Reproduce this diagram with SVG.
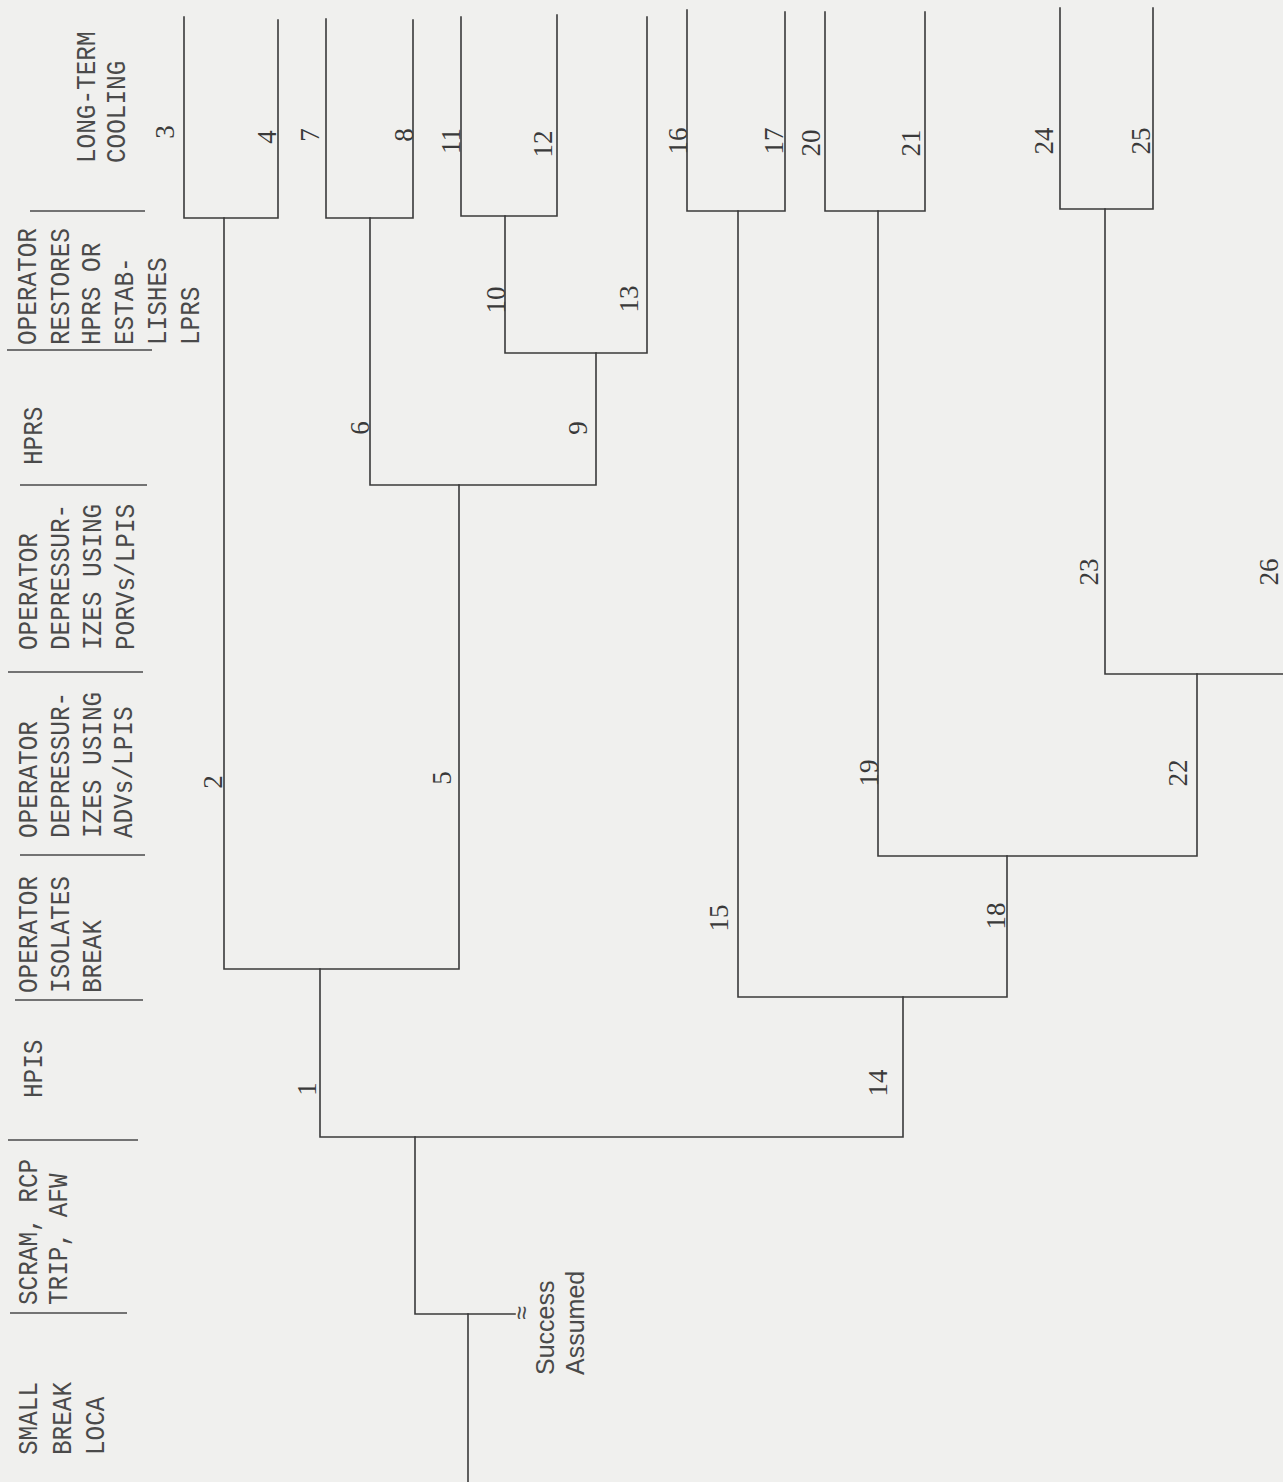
<svg xmlns="http://www.w3.org/2000/svg" width="1283" height="1482" viewBox="0 0 1283 1482">
<style>
.bg{fill:#f0f0ee}
.ln{stroke:#3a3a3a;stroke-width:1.6;fill:none;stroke-linecap:square}
.sep{stroke:#4a4a4a;stroke-width:1.6;fill:none}
.h{font-family:"Liberation Mono","DejaVu Sans Mono",monospace;font-size:28px;fill:#4a4a4a}
.n{font-family:"Liberation Serif","DejaVu Serif",serif;font-size:27px;fill:#3a3a3a;text-anchor:middle}
.s{font-family:"Liberation Sans","DejaVu Sans",sans-serif;font-size:25px;fill:#4a4a4a}
</style>
<rect class="bg" x="0" y="0" width="1283" height="1482"/>

<g id="headers">
<g id="h-small-break-loca">
<text class="h" transform="translate(37,1455) rotate(-90) scale(0.87,1)">SMALL</text>
<text class="h" transform="translate(71,1455) rotate(-90) scale(0.87,1)">BREAK</text>
<text class="h" transform="translate(104,1455) rotate(-90) scale(0.87,1)">LOCA</text>
</g>
<g id="h-scram">
<line class="sep" x1="10" y1="1313" x2="127" y2="1313"/>
<text class="h" transform="translate(37,1305) rotate(-90) scale(0.87,1)">SCRAM, RCP</text>
<text class="h" transform="translate(67,1305) rotate(-90) scale(0.87,1)">TRIP, AFW</text>
</g>
<g id="h-hpis">
<line class="sep" x1="8" y1="1140" x2="138" y2="1140"/>
<text class="h" transform="translate(42,1098) rotate(-90) scale(0.87,1)">HPIS</text>
</g>
<g id="h-isolates">
<line class="sep" x1="15" y1="1000" x2="143" y2="1000"/>
<text class="h" transform="translate(37,993) rotate(-90) scale(0.87,1)">OPERATOR</text>
<text class="h" transform="translate(69,993) rotate(-90) scale(0.87,1)">ISOLATES</text>
<text class="h" transform="translate(101,993) rotate(-90) scale(0.87,1)">BREAK</text>
</g>
<g id="h-advs">
<line class="sep" x1="20" y1="855" x2="145" y2="855"/>
<text class="h" transform="translate(37,838) rotate(-90) scale(0.87,1)">OPERATOR</text>
<text class="h" transform="translate(69,838) rotate(-90) scale(0.87,1)">DEPRESSUR-</text>
<text class="h" transform="translate(101,838) rotate(-90) scale(0.87,1)">IZES USING</text>
<text class="h" transform="translate(132,838) rotate(-90) scale(0.87,1)">ADVs/LPIS</text>
</g>
<g id="h-porvs">
<line class="sep" x1="8" y1="672" x2="143" y2="672"/>
<text class="h" transform="translate(37,650) rotate(-90) scale(0.87,1)">OPERATOR</text>
<text class="h" transform="translate(69,650) rotate(-90) scale(0.87,1)">DEPRESSUR-</text>
<text class="h" transform="translate(101,650) rotate(-90) scale(0.87,1)">IZES USING</text>
<text class="h" transform="translate(134,650) rotate(-90) scale(0.87,1)">PORVs/LPIS</text>
</g>
<g id="h-hprs">
<line class="sep" x1="20" y1="485" x2="147" y2="485"/>
<text class="h" transform="translate(42,465) rotate(-90) scale(0.87,1)">HPRS</text>
</g>
<g id="h-restores">
<line class="sep" x1="7" y1="350" x2="152" y2="350"/>
<text class="h" transform="translate(36,345) rotate(-90) scale(0.87,1)">OPERATOR</text>
<text class="h" transform="translate(69,345) rotate(-90) scale(0.87,1)">RESTORES</text>
<text class="h" transform="translate(100,345) rotate(-90) scale(0.87,1)">HPRS OR</text>
<text class="h" transform="translate(133,345) rotate(-90) scale(0.87,1)">ESTAB-</text>
<text class="h" transform="translate(166,345) rotate(-90) scale(0.87,1)">LISHES</text>
<text class="h" transform="translate(199,345) rotate(-90) scale(0.87,1)">LPRS</text>
</g>
<g id="h-longterm">
<line class="sep" x1="30" y1="211" x2="145" y2="211"/>
<text class="h" transform="translate(95,163) rotate(-90) scale(0.87,1)">LONG-TERM</text>
<text class="h" transform="translate(125,163) rotate(-90) scale(0.87,1)">COOLING</text>
</g>
</g>

<g id="connectors">
<path class="ln" d="M184,17 V218 H278 V20"/>
<path class="ln" d="M326,19 V218 H413 V20"/>
<path class="ln" d="M461,17 V216 H557 V15"/>
<path class="ln" d="M505,216 V353 H647 V17"/>
<path class="ln" d="M370,218 V485 H596 V353"/>
<path class="ln" d="M224,218 V969 H459 V485"/>
<path class="ln" d="M687,10 V211 H785 V12"/>
<path class="ln" d="M825,12 V211 H925 V12"/>
<path class="ln" d="M1060,8 V209 H1153 V8"/>
<path class="ln" d="M1105,209 V674 H1283"/>
<path class="ln" d="M878,211 V856 H1197 V674"/>
<path class="ln" d="M738,211 V997 H1007 V856"/>
<path class="ln" d="M320,969 V1137 H903 V997"/>
<path class="ln" d="M415,1137 V1314 H515"/>
<path class="ln" d="M468,1314 V1482"/>
</g>

<g id="labels">
<g id="n1"><text class="n" transform="translate(316,1089) rotate(-90)">1</text></g>
<g id="n2"><text class="n" transform="translate(222,782) rotate(-90)">2</text></g>
<g id="n3"><text class="n" transform="translate(174,132) rotate(-90)">3</text></g>
<g id="n4"><text class="n" transform="translate(276,137) rotate(-90)">4</text></g>
<g id="n5"><text class="n" transform="translate(451,778) rotate(-90)">5</text></g>
<g id="n6"><text class="n" transform="translate(369,428) rotate(-90)">6</text></g>
<g id="n7"><text class="n" transform="translate(319,135) rotate(-90)">7</text></g>
<g id="n8"><text class="n" transform="translate(413,135) rotate(-90)">8</text></g>
<g id="n9"><text class="n" transform="translate(587,428) rotate(-90)">9</text></g>
<g id="n10"><text class="n" transform="translate(505,300) rotate(-90)">10</text></g>
<g id="n11"><text class="n" transform="translate(460,141) rotate(-90)">11</text></g>
<g id="n12"><text class="n" transform="translate(552,144) rotate(-90)">12</text></g>
<g id="n13"><text class="n" transform="translate(638,299) rotate(-90)">13</text></g>
<g id="n14"><text class="n" transform="translate(887,1083) rotate(-90)">14</text></g>
<g id="n15"><text class="n" transform="translate(728,918) rotate(-90)">15</text></g>
<g id="n16"><text class="n" transform="translate(687,141) rotate(-90)">16</text></g>
<g id="n17"><text class="n" transform="translate(783,141) rotate(-90)">17</text></g>
<g id="n18"><text class="n" transform="translate(1005,916) rotate(-90)">18</text></g>
<g id="n19"><text class="n" transform="translate(878,773) rotate(-90)">19</text></g>
<g id="n20"><text class="n" transform="translate(820,143) rotate(-90)">20</text></g>
<g id="n21"><text class="n" transform="translate(920,143) rotate(-90)">21</text></g>
<g id="n22"><text class="n" transform="translate(1187,773) rotate(-90)">22</text></g>
<g id="n23"><text class="n" transform="translate(1098,572) rotate(-90)">23</text></g>
<g id="n24"><text class="n" transform="translate(1053,141) rotate(-90)">24</text></g>
<g id="n25"><text class="n" transform="translate(1150,141) rotate(-90)">25</text></g>
<g id="n26"><text class="n" transform="translate(1278,572) rotate(-90)">26</text></g>
</g>

<g id="success-assumed">
<text class="s" transform="translate(530,1313) rotate(-90)" text-anchor="middle" font-size="30">≈</text>
<text class="s" transform="translate(554,1375) rotate(-90)">Success</text>
<text class="s" transform="translate(584,1375) rotate(-90)">Assumed</text>
</g>
</svg>
